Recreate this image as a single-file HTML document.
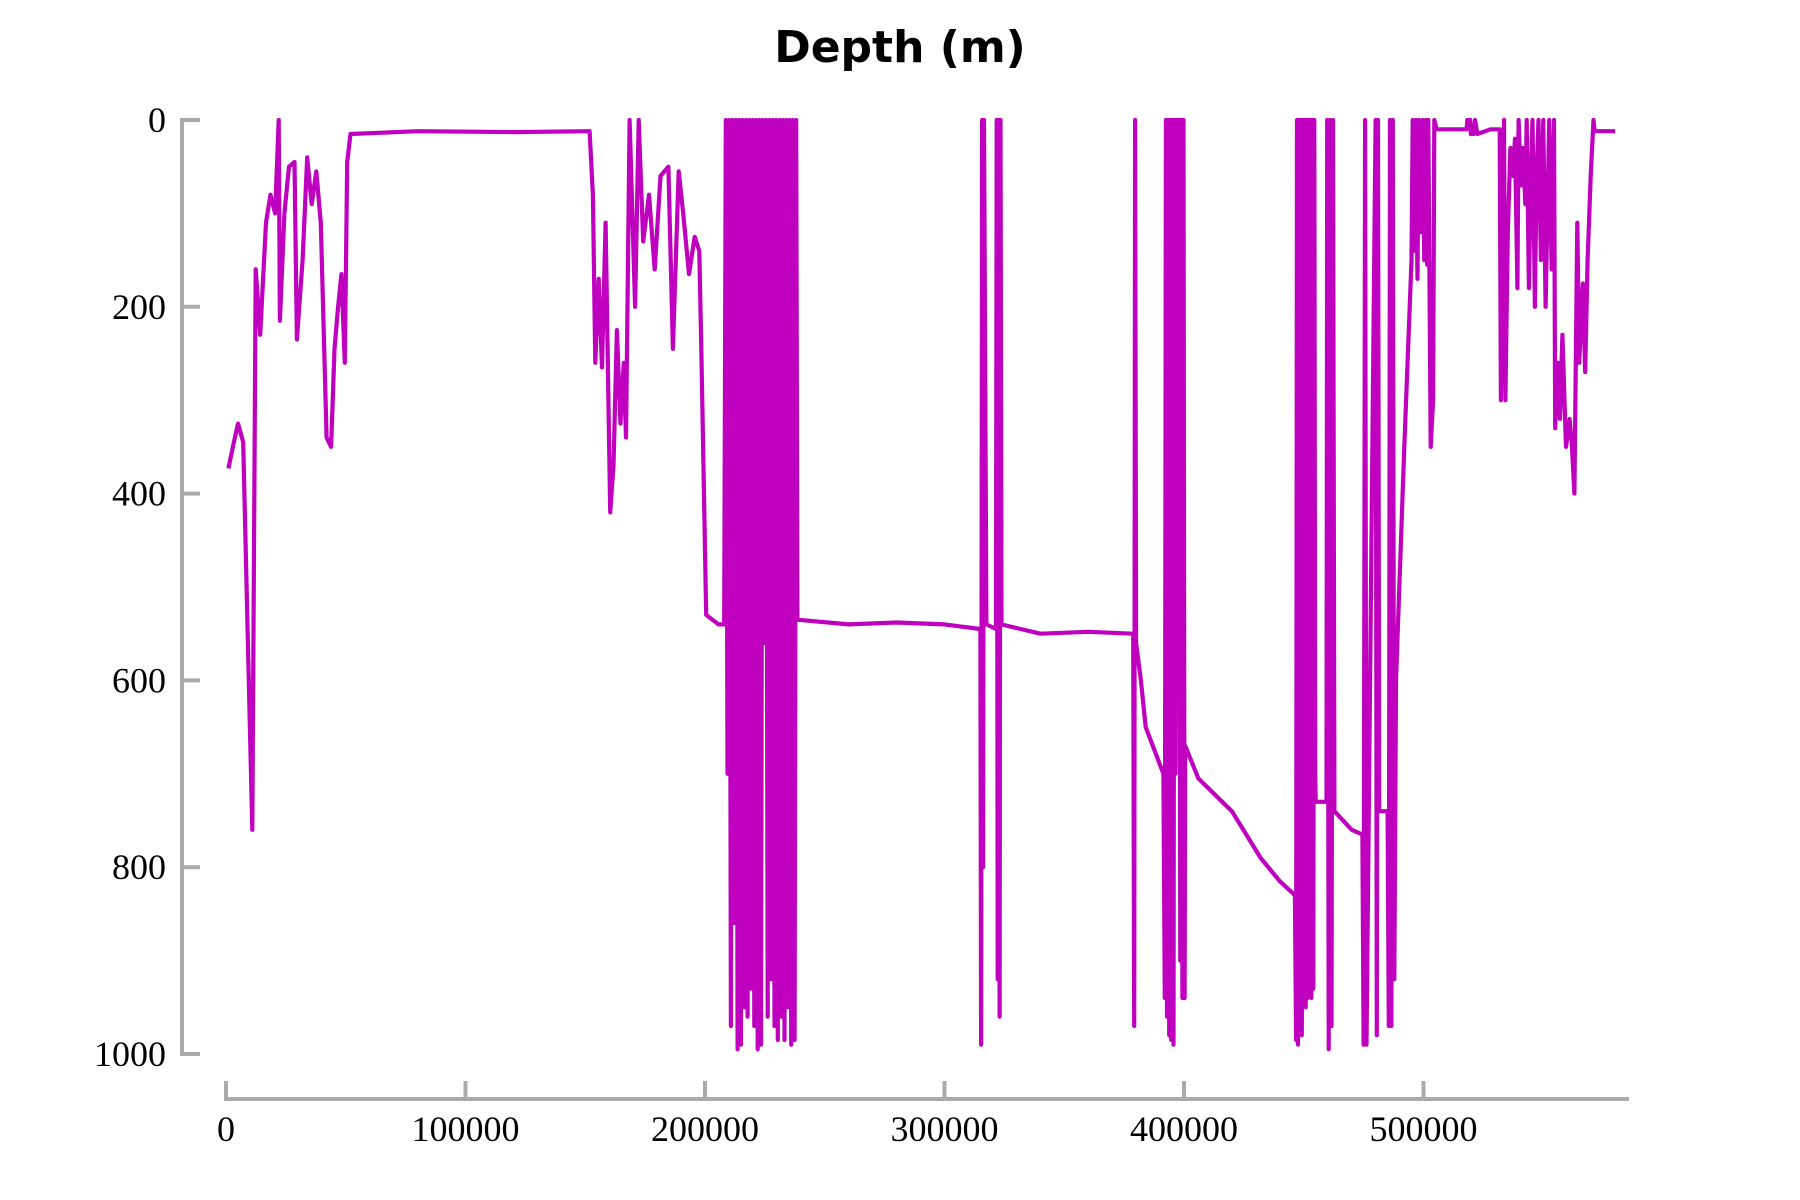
<!DOCTYPE html>
<html><head><meta charset="utf-8">
<style>
html,body{margin:0;padding:0;background:#fff;}
svg{display:block;}
.tick{font-family:"Liberation Serif",serif;font-size:36px;fill:#000;}
.title{font-family:"DejaVu Sans","Liberation Sans",sans-serif;font-weight:bold;font-size:44px;fill:#000;}
</style></head>
<body>
<svg id="chart" width="1800" height="1200" viewBox="0 0 1800 1200" xmlns="http://www.w3.org/2000/svg">
<text class="title" x="900" y="62" text-anchor="middle">Depth (m)</text>
<g id="axes"></g>
<path id="line" fill="none" stroke="#bf00bf" stroke-width="4.2" stroke-linejoin="round"></path>
</svg>
<script>
const xTicks=[0,100000,200000,300000,400000,500000];
const yTicks=[0,200,400,600,800,1000];
const xTickLabels=["0","100000","200000","300000","400000","500000"];
const yTickLabels=["0","200","400","600","800","1000"];
const xs=[1000,3300,5000,7200,11000,12400,14300,16700,18600,20500,22000,22500,24400,26300,28600,29600,32000,33900,35800,37700,39600,42000,43900,45300,46800,48200,49600,50600,52000,80000,120000,151800,153200,154200,155600,157000,158500,160400,161800,163200,164700,166100,167000,168500,170800,172300,174200,176600,179000,181400,184700,186600,189000,190900,193300,195700,197600,198500,200500,205700,206700,
208000,208700,209400,210100,210800,211500,212200,212900,213600,214300,215000,215700,216400,217100,217800,218500,219200,219900,220600,221300,222000,222700,223400,224100,224800,225500,226200,226900,227600,228300,229000,229700,230400,231100,231800,232500,233200,233900,234600,235300,236000,236700,237400,238100,238600,
260000,280000,300000,315000,315300,315700,316100,316500,317500,321500,321800,322200,322600,323000,323400,323800,340000,360000,378800,379200,379600,380000,382000,384000,391400,
392000,392450,392900,393350,393800,394250,394700,395150,395600,396050,396500,397000,398000,398450,398900,399350,399800,400250,400500,
406000,420000,432000,440000,446300,
446800,447200,447600,448000,448400,448800,449200,449600,450000,450400,450800,451200,451600,452000,452400,452800,453200,453600,454000,454400,454800,
455000,459500,459800,460400,461000,461600,462200,462800,470000,474500,475000,475600,476200,480000,480500,481000,481500,485000,485500,486000,486600,487200,487800,488500,492000,495000,495500,496200,496800,497500,498000,499000,499600,500300,501000,501500,502000,503000,504000,504500,505500,518000,518300,519500,519800,521000,521500,522500,528000,531800,532300,533000,533600,534200,535200,536300,537300,538200,539200,539700,540700,541600,542500,543100,544000,544800,545500,546500,547200,548000,549000,550000,551000,552500,553500,554500,555000,556200,557000,558000,559500,561000,562000,563000,564200,565000,566500,567500,568500,569800,571000,571500,580000];
const ys=[373,345,325,345,760,160,230,110,80,100,0,215,100,50,45,235,150,40,90,55,110,340,350,245,200,165,260,45,15,12,13,12,80,260,170,265,110,420,370,225,325,260,340,0,200,0,130,80,160,60,50,245,55,100,165,125,140,250,530,540,540,
540,0,700,0,970,0,860,0,995,0,990,0,950,0,960,0,930,0,970,0,995,0,990,0,560,0,960,0,920,0,970,0,985,0,960,0,985,0,950,0,990,0,985,0,535,
540,538,540,545,990,0,800,0,540,545,0,920,0,960,0,540,550,548,550,970,0,560,600,650,700,
940,0,960,0,980,0,985,0,990,0,700,0,0,900,0,940,0,940,670,
705,740,790,815,830,
985,0,990,0,960,0,980,0,940,0,950,0,940,0,930,0,940,0,930,0,700,
730,730,0,995,0,970,0,740,760,765,990,0,990,0,980,0,740,740,970,0,970,0,920,600,350,150,0,140,0,170,0,120,0,150,0,155,0,350,300,0,10,10,0,0,15,15,0,15,10,10,300,150,0,300,120,30,60,20,180,0,70,30,90,0,180,60,0,200,60,0,150,0,200,0,160,0,330,260,320,230,350,320,350,400,110,260,175,270,150,60,0,12,12];

const X0=226,XPER=239.5/100000,Y0=120,YPER=934/1000;
function xScale(v){return X0+v*XPER;}
function yScale(v){return Y0+v*YPER;}
const NS="http://www.w3.org/2000/svg";
const axes=document.getElementById('axes');
function mk(tag,attrs){const e=document.createElementNS(NS,tag);for(const k in attrs)e.setAttribute(k,attrs[k]);return e;}
let yl=mk('line',{x1:182,y1:yScale(0)-2,x2:182,y2:yScale(1000)+2,stroke:'#aaa','stroke-width':4});


axes.appendChild(yl);
yTicks.forEach((t,i)=>{
  const tk=mk('line',{x1:180,y1:yScale(t),x2:200,y2:yScale(t),stroke:'#aaa','stroke-width':4});
  
  
  axes.appendChild(tk);
  const tx=mk('text',{x:166,y:yScale(t)+12,'text-anchor':'end','class':'tick'});
  
  
  tx.textContent=yTickLabels[i];
  axes.appendChild(tx);
});
let xl=mk('line',{x1:xScale(0)-2,y1:1099,x2:1629,y2:1099,stroke:'#aaa','stroke-width':4});


axes.appendChild(xl);
xTicks.forEach((t,i)=>{
  const tk=mk('line',{x1:xScale(t),y1:1081,x2:xScale(t),y2:1101,stroke:'#aaa','stroke-width':4});
  
  
  axes.appendChild(tk);
  const tx=mk('text',{x:xScale(t),y:1141,'text-anchor':'middle','class':'tick'});
  
  
  tx.textContent=xTickLabels[i];
  axes.appendChild(tx);
});
let d='';
for(let i=0;i<xs.length;i++){d+=(i?'L':'M')+xScale(xs[i]).toFixed(1)+','+yScale(ys[i]).toFixed(1);}
document.getElementById('line').setAttribute('d',d);
</script>
</body></html>
